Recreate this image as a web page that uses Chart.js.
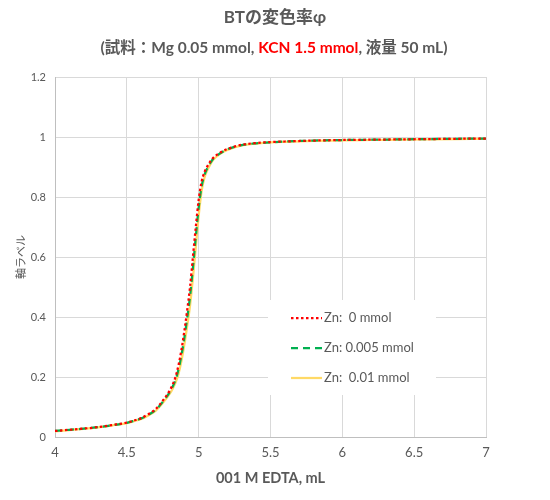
<!DOCTYPE html>
<html><head><meta charset="utf-8">
<script src="https://cdn.jsdelivr.net/npm/chart.js@4/dist/chart.umd.min.js"></script>
<style>html,body{margin:0;padding:0;background:#fff}canvas{display:block}</style>
</head><body>
<canvas id="c" width="550" height="500"></canvas>
<script>
const titleText = 'BTの変色率φ';
const subtitleParts = ['(試料：Mg 0.05 mmol, ', 'KCN 1.5 mmol', ', 液量 50 mL)'];
const subtitleColors = ['#595959', '#FF0000', '#595959'];
const xTitle = '001 M EDTA, mL';
const yTitle = '軸ラベル';
const seriesLabels = ['Zn:  0 mmol', 'Zn: 0.005 mmol', 'Zn:  0.01 mmol'];

const xValues = [4.0,4.1,4.2,4.3,4.4,4.5,4.55,4.6,4.65,4.7,4.75,4.8,4.82,4.84,4.86,4.88,4.90,4.92,4.94,4.96,4.98,5.00,5.02,5.04,5.06,5.08,5.10,5.15,5.2,5.3,5.4,5.5,5.6,5.8,6.0,6.2,6.4,6.6,6.8,7.0];
const zn0    = [0.020,0.024,0.028,0.033,0.040,0.048,0.055,0.063,0.076,0.093,0.121,0.156,0.176,0.202,0.240,0.290,0.352,0.422,0.500,0.600,0.700,0.790,0.850,0.882,0.902,0.918,0.930,0.948,0.960,0.974,0.980,0.983,0.985,0.988,0.990,0.991,0.992,0.993,0.994,0.995];
const zn005  = [0.020,0.024,0.028,0.033,0.039,0.047,0.054,0.062,0.074,0.090,0.117,0.151,0.169,0.192,0.226,0.272,0.329,0.396,0.469,0.565,0.667,0.764,0.834,0.873,0.896,0.913,0.927,0.946,0.959,0.973,0.979,0.982,0.985,0.988,0.990,0.991,0.992,0.993,0.994,0.995];
const zn01   = [0.019,0.023,0.027,0.032,0.039,0.046,0.053,0.060,0.072,0.087,0.113,0.145,0.162,0.182,0.211,0.253,0.307,0.370,0.438,0.530,0.634,0.737,0.818,0.864,0.889,0.908,0.923,0.944,0.957,0.972,0.978,0.982,0.984,0.987,0.989,0.990,0.991,0.992,0.993,0.994];
const xTicksMin = 4, xTicksMax = 7, xStep = 0.5;
const yTicksMin = 0, yTicksMax = 1.2, yStep = 0.2;

const FONT = "Lato, 'Noto Sans CJK JP', sans-serif";
const JFONT = "'Noto Sans CJK JP', Lato, sans-serif";
const GREY = '#595959';

function toPts(ys){ return xValues.map((x,i)=>({x:x,y:ys[i]})); }
function fmt(v){ return String(Number(v.toFixed(2))); }

const titlePlugin = {
  id:'titles',
  afterDraw(chart){
    const ctx = chart.ctx;
    ctx.save();
    ctx.textBaseline = 'middle';
    ctx.fillStyle = GREY;
    ctx.font = "bold 17px " + FONT;
    ctx.textAlign = 'center';
    ctx.fillText(titleText, 275, 18);
    ctx.font = "bold 15.5px " + FONT;
    ctx.textAlign = 'left';
    const widths = subtitleParts.map(t=>ctx.measureText(t).width);
    const total = widths.reduce((a,b)=>a+b,0);
    let x = 274 - total/2;
    subtitleParts.forEach((t,i)=>{ ctx.fillStyle = subtitleColors[i]; ctx.fillText(t, x, 48); x += widths[i]; });
    ctx.restore();
  }
};

const legendPlugin = {
  id:'boxLegend',
  afterDatasetsDraw(chart){
    const ctx = chart.ctx;
    ctx.save();
    ctx.fillStyle = '#fff';
    ctx.fillRect(268, 300, 168, 95);
    chart.data.datasets.forEach((ds,i)=>{
      const y = 318 + i*30;
      ctx.strokeStyle = ds.borderColor;
      ctx.lineWidth = ds.borderWidth;
      ctx.setLineDash(ds.borderDash || []);
      ctx.lineCap = 'butt';
      ctx.beginPath(); ctx.moveTo(291, y); ctx.lineTo(322, y); ctx.stroke();
      ctx.setLineDash([]);
      ctx.fillStyle = GREY;
      ctx.font = "13px " + FONT;
      ctx.textBaseline = 'middle';
      ctx.textAlign = 'left';
      ctx.fillText(ds.label, 324, y);
    });
    ctx.restore();
  }
};

new Chart(document.getElementById('c'), {
  type:'line',
  data:{ datasets:[
    {label:seriesLabels[0], data:toPts(zn0), borderColor:'#FF0000', borderWidth:2.25, borderDash:[2.5,2.5], pointRadius:0, cubicInterpolationMode:'monotone', fill:false},
    {label:seriesLabels[1], data:toPts(zn005), borderColor:'#00B050', borderWidth:2.25, borderDash:[7,5], pointRadius:0, cubicInterpolationMode:'monotone', fill:false},
    {label:seriesLabels[2], data:toPts(zn01), borderColor:'#FFD966', borderWidth:2.25, pointRadius:0, cubicInterpolationMode:'monotone', fill:false}
  ]},
  options:{
    responsive:false, animation:false,
    layout:{padding:{top:77,right:64,left:0,bottom:0}},
    plugins:{legend:{display:false}, title:{display:false}, tooltip:{enabled:false}},
    scales:{
      x:{type:'linear', min:xTicksMin, max:xTicksMax,
        ticks:{stepSize:xStep, color:GREY, font:{family:FONT,size:13}, padding:8, maxRotation:0, callback:fmt},
        grid:{color:'#d9d9d9', drawTicks:false},
        border:{color:'#bfbfbf'},
        title:{display:true, text:xTitle, color:GREY, font:{family:FONT,size:14.5,weight:'bold'}, padding:{top:0,bottom:13}},
        afterFit(s){ s.height = 63; }
      },
      y:{type:'linear', min:yTicksMin, max:yTicksMax,
        ticks:{stepSize:yStep, color:GREY, font:{family:FONT,size:11}, padding:9, callback:fmt},
        grid:{color:'#d9d9d9', drawTicks:false},
        border:{color:'#bfbfbf'},
        title:{display:true, text:yTitle, color:GREY, font:{family:JFONT,size:11}, padding:{top:14,bottom:0}},
        afterFit(s){ s.width = 55; }
      }
    }
  },
  plugins:[titlePlugin, legendPlugin]
});
</script>
</body></html>
